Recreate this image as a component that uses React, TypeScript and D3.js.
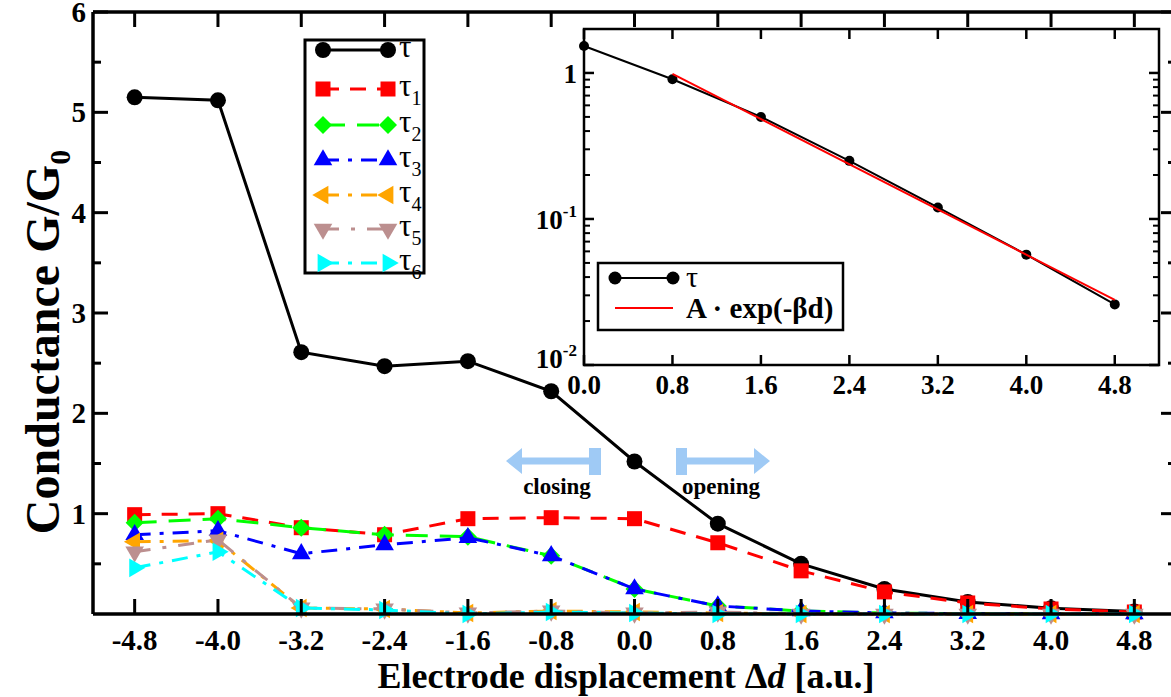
import React from 'react';
import * as d3 from 'd3';

// electrode displacement (a.u.)
const displacement = [-4.8, -4.0, -3.2, -2.4, -1.6, -0.8, 0.0, 0.8, 1.6, 2.4, 3.2, 4.0, 4.8];

// total transmission and eigenchannels
const tau = [5.15, 5.12, 2.61, 2.47, 2.52, 2.22, 1.52, 0.9, 0.5, 0.25, 0.12, 0.057, 0.026];
const tau1 = [0.99, 1.0, 0.86, 0.79, 0.95, 0.96, 0.95, 0.71, 0.43, 0.22, 0.11, 0.05, 0.02];
const tau2 = [0.91, 0.95, 0.86, 0.79, 0.77, 0.58, 0.25, 0.08, 0.03, 0.01, 0.004, 0.002, 0.001];
const tau3 = [0.79, 0.83, 0.6, 0.69, 0.76, 0.58, 0.25, 0.08, 0.03, 0.01, 0.004, 0.002, 0.001];
const tau4 = [0.72, 0.73, 0.06, 0.05, 0.01, 0.03, 0.02, 0.01, 0, 0, 0, 0, 0];
const tau5 = [0.62, 0.74, 0.06, 0.05, 0.01, 0.03, 0.01, 0.02, 0, 0, 0, 0, 0];
const tau6 = [0.46, 0.62, 0.06, 0.04, 0.0, 0.02, 0.01, 0.0, 0, 0, 0, 0, 0];

const xTickLabels = ['-4.8', '-4.0', '-3.2', '-2.4', '-1.6', '-0.8', '0.0', '0.8', '1.6', '2.4', '3.2', '4.0', '4.8'];
const yTicks = [1, 2, 3, 4, 5, 6];
const yMinor = [0.5, 1.5, 2.5, 3.5, 4.5, 5.5];

// inset: tau vs opening distance (log scale) and the exponential fit
const insetX = [0.0, 0.8, 1.6, 2.4, 3.2, 4.0, 4.8];
const insetTau = [1.53, 0.905, 0.5, 0.25, 0.12, 0.057, 0.026];
const fitX = [0.8, 4.8];
const fitY = [0.985, 0.0279];
const insetXTicks = ['0.0', '0.8', '1.6', '2.4', '3.2', '4.0', '4.8'];

const FONT = '"Liberation Serif", "Times New Roman", serif';

const series = [
  { name: '', data: tau, color: '#000000', dash: '', shape: 'circle' },
  { name: '1', data: tau1, color: '#ff0000', dash: '16,11', shape: 'square' },
  { name: '2', data: tau2, color: '#00ff00', dash: '22,12', shape: 'diamond' },
  { name: '3', data: tau3, color: '#0000ff', dash: '16,9,4,9', shape: 'up' },
  { name: '4', data: tau4, color: '#ffa500', dash: '16,9,4,9', shape: 'left' },
  { name: '5', data: tau5, color: '#bc8f8f', dash: '16,12,4,12', shape: 'down' },
  { name: '6', data: tau6, color: '#00ffff', dash: '16,9,4,9', shape: 'right' },
];

const triangle = d3.symbol().type(d3.symbolTriangle).size(150)() as string;

function Marker({ shape, x, y, color }: { shape: string; x: number; y: number; color: string }) {
  if (shape === 'circle') return <circle cx={x} cy={y} r={8} fill={color} />;
  if (shape === 'square') return <rect x={x - 7.5} y={y - 7.5} width={15} height={15} fill={color} />;
  if (shape === 'diamond')
    return <path d={`M${x},${y - 9}L${x + 9},${y}L${x},${y + 9}L${x - 9},${y}Z`} fill={color} />;
  const rot = { up: 0, right: 90, down: 180, left: -90 }[shape] ?? 0;
  return <path d={triangle} transform={`translate(${x},${y}) rotate(${rot})`} fill={color} />;
}

export default function App() {
  const x = d3.scaleLinear().domain([-5.2, 5.2]).range([93, 1176]);
  const y = d3.scaleLinear().domain([0, 6]).range([614, 12]);

  const ix = d3.scaleLinear().domain([0, 5.2]).range([584, 1159]);
  const iy = d3.scaleLog().domain([0.01, 2]).range([365, 29]);

  const line = d3
    .line<number>()
    .x((_, i) => x(displacement[i]))
    .y((d) => y(d));

  const insetLine = d3
    .line<number>()
    .x((_, i) => ix(insetX[i]))
    .y((d) => iy(d));
  const fitLine = d3
    .line<number>()
    .x((_, i) => ix(fitX[i]))
    .y((d) => iy(d));

  const minorLog: number[] = [];
  [0.01, 0.1, 1].forEach((dec) => {
    for (let k = 2; k <= 9; k++) if (dec * k <= 2) minorLog.push(dec * k);
  });

  const legendRows = [50, 89, 125, 160, 195, 229, 263];
  const arrowColor = '#9fcaf5';

  return (
    <svg
      width={1171}
      height={697}
      style={{ position: 'absolute', left: 0, top: 0, background: '#fff' }}
      fontFamily={FONT}
    >
      <rect width={1171} height={697} fill="#fff" />

      {/* data */}
      {series.map((s) => (
        <g key={s.name}>
          <path d={line(s.data) as string} fill="none" stroke={s.color} strokeWidth={3} strokeDasharray={s.dash} />
          {s.data.map((v, i) => (
            <Marker key={i} shape={s.shape} x={x(displacement[i])} y={y(v)} color={s.color} />
          ))}
        </g>
      ))}

      {/* main frame and ticks */}
      <g stroke="#000" strokeWidth={3}>
        <line x1={93} x2={1176} y1={614} y2={614} strokeWidth={3.5} />
        <line x1={93} x2={1176} y1={12} y2={12} strokeWidth={3.5} />
        <line x1={93} x2={93} y1={12} y2={614} strokeWidth={3.5} />
        {displacement.map((d) => (
          <g key={d}>
            <line x1={x(d)} x2={x(d)} y1={614} y2={599} />
            <line x1={x(d)} x2={x(d)} y1={12} y2={27} />
          </g>
        ))}
        {yTicks.map((t) => (
          <g key={t}>
            <line x1={93} x2={108} y1={y(t)} y2={y(t)} />
            <line x1={1176} x2={1161} y1={y(t)} y2={y(t)} />
          </g>
        ))}
        {yMinor.map((t) => (
          <g key={t}>
            <line x1={93} x2={101} y1={y(t)} y2={y(t)} />
            <line x1={1176} x2={1168} y1={y(t)} y2={y(t)} />
          </g>
        ))}
      </g>

      {/* main tick labels */}
      <g fontWeight="bold" fontSize={29} fill="#000">
        {xTickLabels.map((t, i) => (
          <text key={t} x={x(displacement[i])} y={650} textAnchor="middle">
            {t}
          </text>
        ))}
        {yTicks.map((t) => (
          <text key={t} x={86} y={y(t) + 10} textAnchor="end">
            {t}
          </text>
        ))}
      </g>

      {/* axis titles */}
      <text x={626} y={688} textAnchor="middle" fontWeight="bold" fontSize={36}>
        Electrode displacement Δ<tspan fontStyle="italic">d</tspan> [a.u.]
      </text>
      <text
        transform="translate(59,342) rotate(-90)"
        textAnchor="middle"
        fontWeight="bold"
        fontSize={48}
      >
        Conductance G/G<tspan fontSize={30} dy={11}>0</tspan>
      </text>

      {/* main legend */}
      <rect x={305} y={40} width={119} height={233} fill="#fff" stroke="#000" strokeWidth={3} />
      {series.map((s, i) => (
        <g key={'lg' + s.name}>
          <line x1={323} x2={388} y1={legendRows[i]} y2={legendRows[i]} stroke={s.color} strokeWidth={3} strokeDasharray={s.dash} />
          <Marker shape={s.shape} x={323} y={legendRows[i]} color={s.color} />
          <Marker shape={s.shape} x={388} y={legendRows[i]} color={s.color} />
          <text x={399} y={legendRows[i] + 7} fontSize={31}>
            τ{s.name && <tspan fontSize={20} dy={9}>{s.name}</tspan>}
          </text>
        </g>
      ))}

      {/* closing / opening arrows */}
      <g fill={arrowColor}>
        <path d="M506,461L522,448L522,457.5L589,457.5L589,448L601,448L601,475L589,475L589,464.5L522,464.5L522,474Z" />
        <path d="M770,461L754,448L754,457.5L687,457.5L687,448L676,448L676,475L687,475L687,464.5L754,464.5L754,474Z" />
      </g>
      <g fontWeight="bold" fontSize={23}>
        <text x={557} y={494} textAnchor="middle">closing</text>
        <text x={721} y={494} textAnchor="middle">opening</text>
      </g>

      {/* inset */}
      <rect x={584} y={29} width={575} height={336} fill="#fff" />
      <path d={insetLine(insetTau) as string} fill="none" stroke="#000" strokeWidth={2} />
      {insetTau.map((v, i) => (
        <circle key={i} cx={ix(insetX[i])} cy={iy(v)} r={5} fill="#000" />
      ))}
      <path d={fitLine(fitY) as string} fill="none" stroke="#ff0000" strokeWidth={2} />
      <g stroke="#000" strokeWidth={2.5}>
        <rect x={584} y={29} width={575} height={336} fill="none" />
        {insetX.map((d) => (
          <g key={d}>
            <line x1={ix(d)} x2={ix(d)} y1={365} y2={355} />
            <line x1={ix(d)} x2={ix(d)} y1={29} y2={39} />
          </g>
        ))}
        {[0.01, 0.1, 1].map((t) => (
          <g key={t}>
            <line x1={584} x2={594} y1={iy(t)} y2={iy(t)} />
            <line x1={1159} x2={1149} y1={iy(t)} y2={iy(t)} />
          </g>
        ))}
        {minorLog.map((t) => (
          <g key={t}>
            <line x1={584} x2={590} y1={iy(t)} y2={iy(t)} strokeWidth={2} />
            <line x1={1159} x2={1153} y1={iy(t)} y2={iy(t)} strokeWidth={2} />
          </g>
        ))}
      </g>
      <g fontWeight="bold" fontSize={27}>
        {insetXTicks.map((t, i) => (
          <text key={t} x={ix(insetX[i])} y={394} textAnchor="middle">
            {t}
          </text>
        ))}
        <text x={577} y={iy(1) + 10} textAnchor="end">1</text>
        <text x={577} y={iy(0.1) + 10} textAnchor="end">
          10<tspan fontSize={17} dy={-12}>-1</tspan>
        </text>
        <text x={577} y={iy(0.01) + 3} textAnchor="end">
          10<tspan fontSize={17} dy={-12}>-2</tspan>
        </text>
      </g>

      {/* inset legend */}
      <rect x={598} y={263} width={245} height={67} fill="#fff" stroke="#000" strokeWidth={2.5} />
      <line x1={615} x2={673} y1={278} y2={278} stroke="#000" strokeWidth={2} />
      <circle cx={615} cy={278} r={6.5} fill="#000" />
      <circle cx={673} cy={278} r={6.5} fill="#000" />
      <text x={686} y={287} fontSize={30}>τ</text>
      <line x1={615} x2={673} y1={308} y2={308} stroke="#ff0000" strokeWidth={2} />
      <text x={686} y={318} fontSize={29} fontWeight="bold">A · exp(-βd)</text>
    </svg>
  );
}
